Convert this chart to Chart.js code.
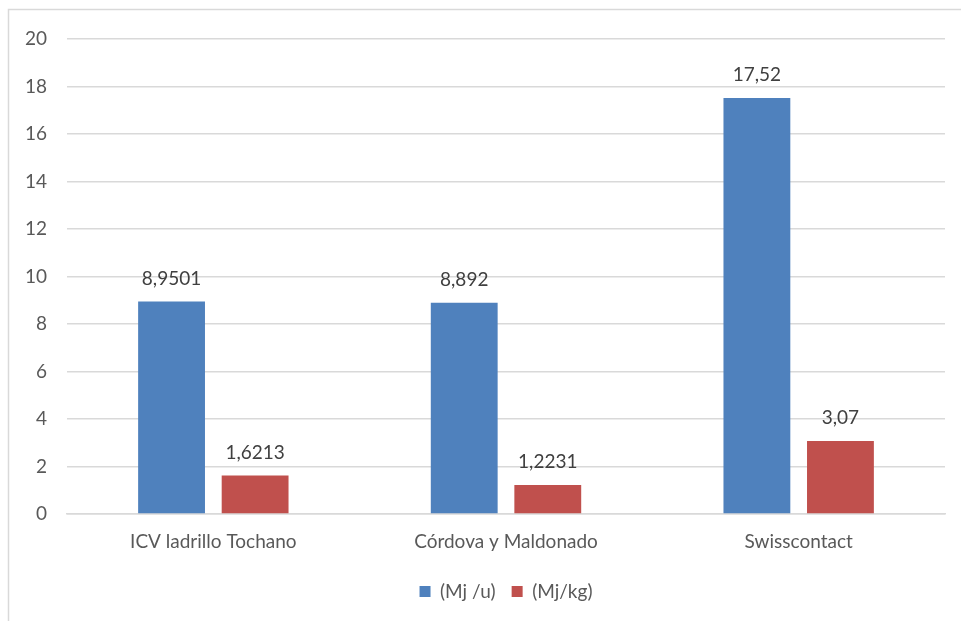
<!DOCTYPE html>
<html>
<head>
<meta charset="utf-8">
<script src="https://cdn.jsdelivr.net/npm/chart.js@4/dist/chart.umd.min.js"></script>
<style>
  html, body { margin: 0; padding: 0; background: #ffffff; }
  #wrap { width: 961px; height: 621px; position: relative; }
</style>
</head>
<body>
<div id="wrap"><canvas id="c" width="961" height="621"></canvas></div>
<script>
const categories = ['ICV ladrillo Tochano', 'Córdova y Maldonado', 'Swisscontact'];
const seriesNames = ['(Mj /u)', '(Mj/kg)'];
const energyPerUnit = [8.9501, 8.892, 17.52];
const energyPerKg = [1.6213, 1.2231, 3.07];
const valueLabelsUnit = ['8,9501', '8,892', '17,52'];
const valueLabelsKg = ['1,6213', '1,2231', '3,07'];
const yTicks = [0, 2, 4, 6, 8, 10, 12, 14, 16, 18, 20];

const FONT = 'Lato, "Open Sans", sans-serif';
const FS = 19;

// Light frame around the chart (top and left edges visible)
const framePlugin = {
  id: 'frame',
  beforeDraw(chart) {
    const ctx = chart.ctx;
    ctx.save();
    ctx.strokeStyle = '#d9d9d9';
    ctx.lineWidth = 1.5;
    ctx.strokeRect(8.5, 9.5, 1000, 700);
    ctx.restore();
  }
};

// Centre the legend under the plot area rather than the whole canvas
const legendShiftPlugin = {
  id: 'legendShift',
  afterLayout(chart) {
    const lg = chart.legend;
    if (!lg) return;
    const shift = (chart.chartArea.left + chart.chartArea.right) / 2 - (lg.left + lg.right) / 2;
    lg.left += shift;
    lg.right += shift;
  }
};

// Value labels above each bar
const valueLabelPlugin = {
  id: 'valueLabels',
  afterDatasetsDraw(chart) {
    const ctx = chart.ctx;
    const texts = [valueLabelsUnit, valueLabelsKg];
    ctx.save();
    ctx.font = FS + 'px ' + FONT;
    ctx.fillStyle = '#404040';
    ctx.textAlign = 'center';
    ctx.textBaseline = 'middle';
    chart.data.datasets.forEach((ds, di) => {
      const meta = chart.getDatasetMeta(di);
      meta.data.forEach((bar, i) => {
        ctx.fillText(texts[di][i], bar.x, bar.y - 23);
      });
    });
    ctx.restore();
  }
};

new Chart(document.getElementById('c'), {
  type: 'bar',
  data: {
    labels: categories,
    datasets: [
      { label: seriesNames[0], data: energyPerUnit, backgroundColor: '#4f81bd', borderWidth: 0 },
      { label: seriesNames[1], data: energyPerKg, backgroundColor: '#c0504d', borderWidth: 0 }
    ]
  },
  options: {
    responsive: false,
    animation: false,
    devicePixelRatio: 1,
    layout: { padding: { top: 39, right: 16, left: 0, bottom: 10 } },
    datasets: {
      bar: { categoryPercentage: 0.571, barPercentage: 0.8 }
    },
    plugins: {
      tooltip: { enabled: false },
      legend: {
        position: 'bottom',
        labels: {
          boxWidth: 11,
          boxHeight: 11,
          padding: 16,
          color: '#595959',
          font: { family: FONT, size: FS }
        }
      }
    },
    scales: {
      x: {
        grid: { display: false },
        border: { display: true, color: '#d9d9d9', width: 1.5 },
        ticks: { color: '#595959', font: { family: FONT, size: FS }, padding: 8 },
        afterFit(scale) { scale.height = 52; }
      },
      y: {
        min: 0,
        max: 20,
        afterBuildTicks(scale) { scale.ticks = yTicks.map(v => ({ value: v })); },
        grid: { color: '#d9d9d9', lineWidth: 1.5, drawTicks: false },
        border: { display: false },
        ticks: { color: '#595959', font: { family: FONT, size: FS }, padding: 20 },
        afterFit(scale) { scale.width = 67; }
      }
    }
  },
  plugins: [framePlugin, legendShiftPlugin, valueLabelPlugin]
});
</script>
</body>
</html>
